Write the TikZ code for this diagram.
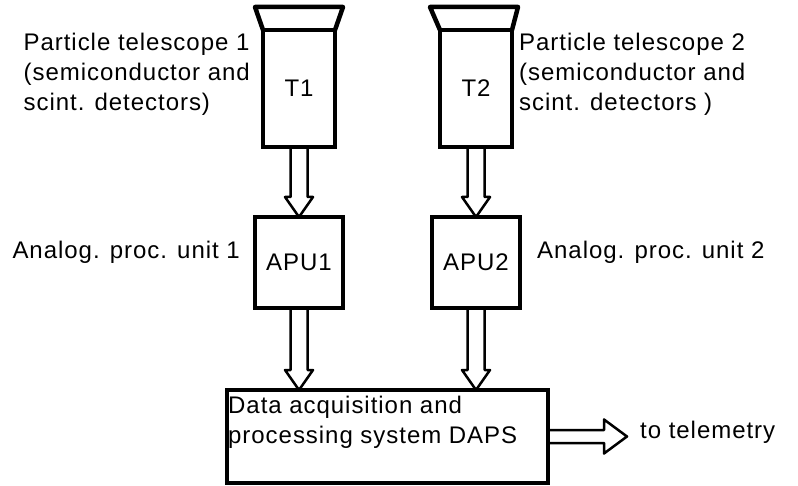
\documentclass[tikz,border=0pt]{standalone}
\usepackage{fontspec}
\setmainfont[LetterSpace=4]{Liberation Sans}
\usetikzlibrary{calc, positioning}
\tikzset{
  tbody/.style={rectangle, draw, line width=3.5pt, outer sep=0pt, minimum width=72pt, minimum height=117pt, font=\fontsize{24}{30}\selectfont},
  tfunnel/.style={draw, line width=4.5pt, line join=round},
  apubox/.style={rectangle, draw, line width=4pt, outer sep=0pt, minimum width=88pt, minimum height=91pt, font=\fontsize{24}{30}\selectfont},
  dapsbox/.style={rectangle, draw, line width=4pt, outer sep=0pt, minimum width=321pt, minimum height=93pt},
  lbl/.style={align=left, inner sep=0pt, font=\fontsize{24}{30}\selectfont},
  fatline/.style={draw, line width=2.5pt, line join=round},
}
% hollow block arrow: from, to, shaft half width, head half width, head length
\newcommand\fatarrow[5]{%
  \coordinate (fa-base) at ($(#2)!#5!(#1)$);
  \draw[fatline]
    ($(#1)!#3!90:(#2)$) -- ($(fa-base)!#3!-90:(#1)$) -- ($(fa-base)!#4!-90:(#1)$) -- (#2)
    -- ($(fa-base)!#4!90:(#1)$) -- ($(fa-base)!#3!90:(#1)$) -- ($(#1)!#3!-90:(#2)$);
}

\begin{document}
\begin{tikzpicture}[x=1pt, y=1pt]
  \useasboundingbox (0,0) rectangle (798,-486);

  % Telescopes with their entrance funnels.
  \node[tbody] (T1) at (299,-88.5) {T1};
  \node[tbody, right=105pt of T1] (T2) {T2};
  \draw[tfunnel] (T1.north west) -- ++(-8,23) -- ($(T1.north east)+(8,23)$) -- (T1.north east);
  \draw[tfunnel] (T2.north west) -- ++(-10,23) -- ($(T2.north east)+(6,23)$) -- (T2.north east);

  % Analog processing units and DAPS.
  \node[apubox, below=70pt of T1] (APU1) {APU1};
  \node[apubox, below=70pt of T2] (APU2) {APU2};
  \coordinate (apumid) at ($(APU1.south)!0.5!(APU2.south)$);
  \node[dapsbox, below=82pt of apumid,
    label={[lbl, anchor=north west, xshift=1pt, yshift=-6pt]north west:{Data acquisition and\\processing system DAPS}}] (DAPS) {};
  \coordinate[right=79pt of DAPS.east] (tel);

  % Labels.
  \node[lbl, below left=3pt and 13pt of T1.north west] (lblT1) {Particle telescope 1\\(semiconductor and\\scint. detectors)};
  \node[lbl, below right=3pt and 7pt of T2.north east] (lblT2) {Particle telescope 2\\(semiconductor and\\scint. detectors )};
  \node[lbl, left=15pt of APU1, yshift=10pt] (lblA1) {Analog. proc. unit 1};
  \node[lbl, right=17pt of APU2, yshift=10pt] (lblA2) {Analog. proc. unit 2};
  \node[lbl, right=13pt of tel, yshift=4pt] (lblTel) {to telemetry};

  % Data flow.
  \coordinate (in1) at (APU1.south |- DAPS.north);
  \coordinate (in2) at (APU2.south |- DAPS.north);
  \fatarrow{T1.south}{APU1.north}{8.5pt}{14pt}{20pt}
  \fatarrow{T2.south}{APU2.north}{8.5pt}{14pt}{20pt}
  \fatarrow{APU1.south}{in1}{8.5pt}{14pt}{20pt}
  \fatarrow{APU2.south}{in2}{8.5pt}{14pt}{20pt}
  \fatarrow{DAPS.east}{tel}{6.5pt}{17pt}{23pt}
\end{tikzpicture}
\end{document}
